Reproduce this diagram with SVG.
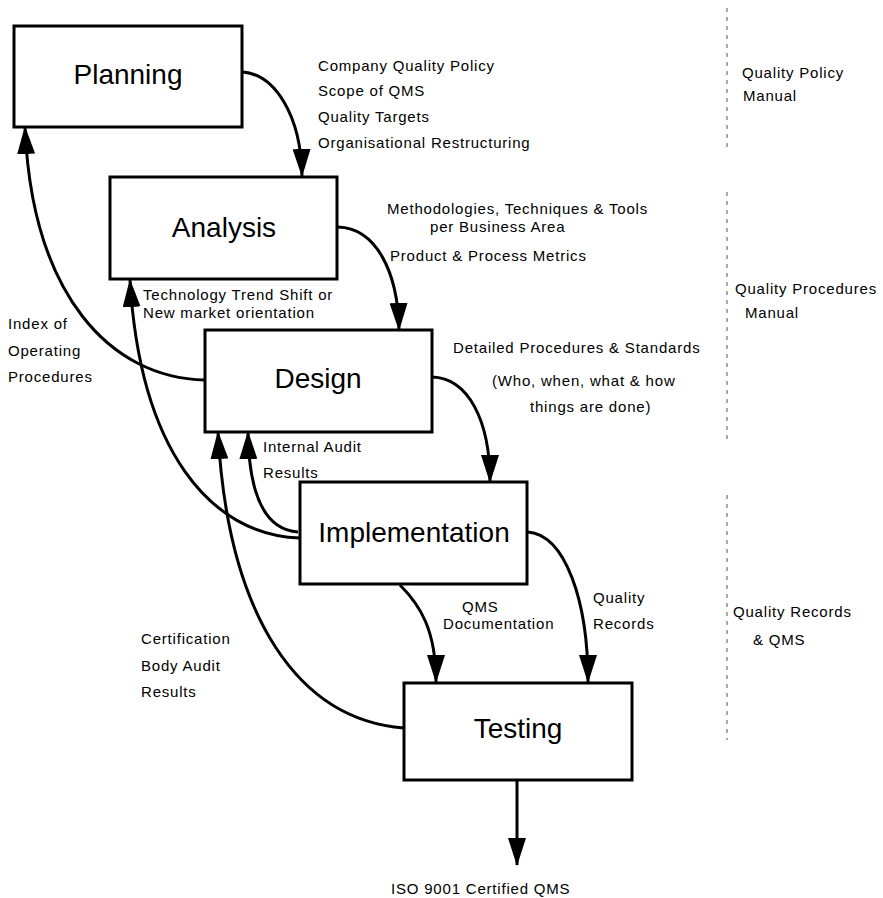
<svg xmlns="http://www.w3.org/2000/svg" width="883" height="898" viewBox="0 0 883 898">
<defs>
<marker id="ah" viewBox="0 0 28 18" refX="27" refY="9" markerWidth="28" markerHeight="18" markerUnits="userSpaceOnUse" orient="auto">
<path d="M0,0 L28,9 L0,18 Z" fill="#000"/>
</marker>
<style>
.box{fill:#fff;stroke:#000;stroke-width:3}
.lbl{font-family:"Liberation Sans",Arial,sans-serif;font-size:28px;fill:#000;text-anchor:middle}
.t{font-family:"Liberation Sans",Arial,sans-serif;font-size:15px;letter-spacing:0.8px;fill:#000}
.c{fill:none;stroke:#000;stroke-width:3;marker-end:url(#ah)}
.d{stroke:#555;stroke-width:1;stroke-dasharray:4 5}
</style>
</defs>
<rect width="883" height="898" fill="#fff"/>
<g id="connectors">
<path class="c" d="M243,72 C275,75 301,115 302,176"/>
<path class="c" d="M338,227 C375,228 398,270 399,330"/>
<path class="c" d="M432,377 C468,378 490,420 490,482"/>
<path class="c" d="M400,585 C420,605 436,630 436,682"/>
<path class="c" d="M528,532 C565,535 588,600 588,682"/>
<path class="c" d="M517,780 L517,865"/>
<path class="c" d="M205,380 C110,378 32,295 25,127"/>
<path class="c" d="M300,538 C210,535 140,450 130,280"/>
<path class="c" d="M298,532 C268,530 249,500 248,432"/>
<path class="c" d="M404,728 C300,720 228,620 218,432"/>
</g>
<g id="dividers">
<line class="d" x1="727" y1="8" x2="727" y2="150"/>
<line class="d" x1="727" y1="192" x2="727" y2="440"/>
<line class="d" x1="727" y1="495" x2="727" y2="740"/>
</g>
<g id="planning"><rect class="box" x="14" y="26" width="228" height="101"/><text class="lbl" x="128" y="84">Planning</text></g>
<g id="analysis"><rect class="box" x="110" y="177" width="227" height="102"/><text class="lbl" x="224" y="237">Analysis</text></g>
<g id="design"><rect class="box" x="205" y="330" width="227" height="102"/><text class="lbl" x="318" y="388">Design</text></g>
<g id="implementation"><rect class="box" x="300" y="482" width="227" height="102"/><text class="lbl" x="414" y="542">Implementation</text></g>
<g id="testing"><rect class="box" x="404" y="683" width="228" height="97"/><text class="lbl" x="518" y="738">Testing</text></g>
<g id="labels">
<text class="t" x="318" y="71">Company Quality Policy</text>
<text class="t" x="318" y="96">Scope of QMS</text>
<text class="t" x="318" y="122">Quality Targets</text>
<text class="t" x="318" y="148">Organisational Restructuring</text>
<text class="t" x="387" y="214">Methodologies, Techniques &amp; Tools</text>
<text class="t" x="430" y="232">per Business Area</text>
<text class="t" x="390" y="261">Product &amp; Process Metrics</text>
<text class="t" x="143" y="300">Technology Trend Shift or</text>
<text class="t" x="143" y="318">New market orientation</text>
<text class="t" x="8" y="329">Index of</text>
<text class="t" x="8" y="356">Operating</text>
<text class="t" x="8" y="382">Procedures</text>
<text class="t" x="453" y="353">Detailed Procedures &amp; Standards</text>
<text class="t" x="492" y="386">(Who, when, what &amp; how</text>
<text class="t" x="530" y="412">things are done)</text>
<text class="t" x="263" y="452">Internal Audit</text>
<text class="t" x="263" y="478">Results</text>
<text class="t" x="462" y="612">QMS</text>
<text class="t" x="443" y="629">Documentation</text>
<text class="t" x="593" y="603">Quality</text>
<text class="t" x="593" y="629">Records</text>
<text class="t" x="141" y="644">Certification</text>
<text class="t" x="141" y="671">Body Audit</text>
<text class="t" x="141" y="697">Results</text>
<text class="t" x="391" y="894">ISO 9001 Certified QMS</text>
<text class="t" x="742" y="78">Quality Policy</text>
<text class="t" x="743" y="101">Manual</text>
<text class="t" x="735" y="294">Quality Procedures</text>
<text class="t" x="745" y="318">Manual</text>
<text class="t" x="733" y="617">Quality Records</text>
<text class="t" x="753" y="645">&amp; QMS</text>
</g>
</svg>
